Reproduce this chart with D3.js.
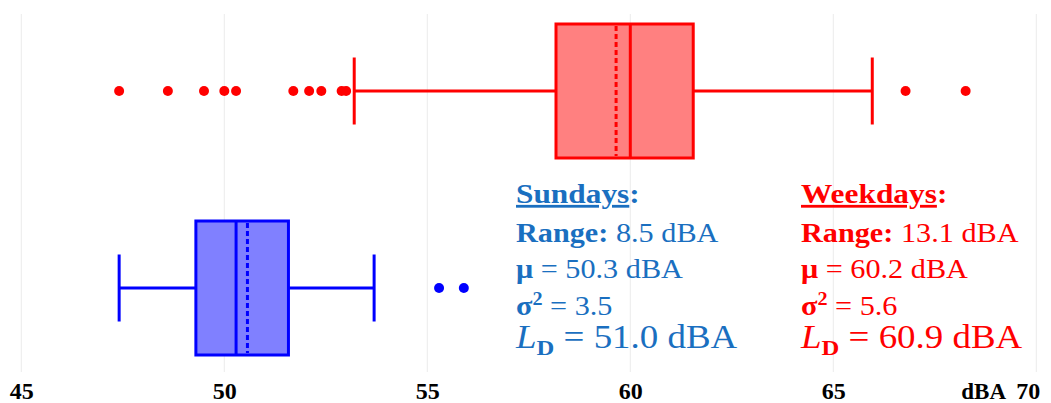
<!DOCTYPE html>
<html><head><meta charset="utf-8">
<script src="https://cdn.jsdelivr.net/npm/d3@7"></script>
<style>
body{margin:0;background:#fff;overflow:hidden}
svg text{font-family:"Liberation Serif","Times New Roman",Times,serif}
</style>
</head><body><svg id="c" width="1051" height="403"></svg>
<script>
// ---- data ----
const categories = ["Weekdays", "Sundays"];
const whiskerLow = [53.2, 47.41];
const q1 = [58.17, 49.30];
const median = [60.0, 50.29];
const mean = [59.65, 50.57];
const q3 = [61.55, 51.58];
const whiskerHigh = [65.96, 53.69];
const outliersWeekdays = [47.41, 48.61, 49.50, 50.00, 50.29, 51.70, 52.09, 52.39, 52.89, 53.00, 66.78, 68.26];
const outliersSundays = [55.29, 55.90];
const tickValues = [45, 50, 55, 60, 65, 70];
const unitLabel = "dBA";
const statsSundays = {title: "Sundays:", range: "8.5 dBA", mu: "50.3 dBA", var: "3.5", ld: "51.0 dBA"};
const statsWeekdays = {title: "Weekdays:", range: "13.1 dBA", mu: "60.2 dBA", var: "5.6", ld: "60.9 dBA"};

const strokeCol = ["#ff0000", "#0000ff"];
const fillCol = ["#ff8080", "#8080ff"];
const textCol = {Sundays: "#1a6fc0", Weekdays: "#ff0000"};

const svg = d3.select("#c");
const x = d3.scaleLinear().domain([45, 70]).range([21.3, 1036.3]);
const y = d3.scalePoint().domain(categories).range([91, 288]);
const boxH = 134, capH = 67;

// gridlines
svg.append("g").selectAll("line").data(tickValues).join("line")
  .attr("x1", d => x(d)).attr("x2", d => x(d))
  .attr("y1", 14).attr("y2", 372)
  .attr("stroke", "#ececec").attr("stroke-width", 1);

const rows = categories.map((c, i) => ({c, i, lo: whiskerLow[i], q1: q1[i], med: median[i], mean: mean[i], q3: q3[i], hi: whiskerHigh[i],
  out: i === 0 ? outliersWeekdays : outliersSundays}));

const g = svg.append("g").selectAll("g").data(rows).join("g");
g.append("line").attr("x1", d => x(d.lo)).attr("x2", d => x(d.q1))
  .attr("y1", d => y(d.c)).attr("y2", d => y(d.c))
  .attr("stroke", d => strokeCol[d.i]).attr("stroke-width", 3);
g.append("line").attr("x1", d => x(d.q3)).attr("x2", d => x(d.hi))
  .attr("y1", d => y(d.c)).attr("y2", d => y(d.c))
  .attr("stroke", d => strokeCol[d.i]).attr("stroke-width", 3);
g.selectAll(".cap").data(d => [[d, d.lo], [d, d.hi]]).join("line")
  .attr("x1", e => x(e[1])).attr("x2", e => x(e[1]))
  .attr("y1", e => y(e[0].c) - capH / 2).attr("y2", e => y(e[0].c) + capH / 2)
  .attr("stroke", e => strokeCol[e[0].i]).attr("stroke-width", 3);
g.append("rect").attr("x", d => x(d.q1)).attr("width", d => x(d.q3) - x(d.q1))
  .attr("y", d => y(d.c) - boxH / 2).attr("height", boxH)
  .attr("fill", d => fillCol[d.i]).attr("stroke", d => strokeCol[d.i]).attr("stroke-width", 3);
g.append("line").attr("x1", d => x(d.med)).attr("x2", d => x(d.med))
  .attr("y1", d => y(d.c) - boxH / 2).attr("y2", d => y(d.c) + boxH / 2)
  .attr("stroke", d => strokeCol[d.i]).attr("stroke-width", 3);
g.append("line").attr("x1", d => x(d.mean)).attr("x2", d => x(d.mean))
  .attr("y1", d => y(d.c) - boxH / 2 + 2).attr("y2", d => y(d.c) + boxH / 2 - 2)
  .attr("stroke", d => strokeCol[d.i]).attr("stroke-width", 3).attr("stroke-dasharray", "5,3");
g.selectAll("circle").data(d => d.out.map(v => [d, v])).join("circle")
  .attr("cx", e => x(e[1])).attr("cy", e => y(e[0].c)).attr("r", 5)
  .attr("fill", e => strokeCol[e[0].i]);

// axis
const axis = d3.axisBottom(x).tickValues(tickValues.slice(0, -1)).tickSize(0).tickFormat(d3.format("d"));
const ax = svg.append("g").attr("transform", "translate(0,399)").call(axis);
ax.select(".domain").remove();
ax.attr("font-family", null);
ax.selectAll("text").attr("y", 0).attr("dy", null)
  .style("font-weight", "bold").style("font-size", "24px").attr("fill", "#000");
const last = tickValues[tickValues.length - 1];
svg.append("text").attr("x", x(last) - 8).attr("y", 399).attr("text-anchor", "middle")
  .style("font-weight", "bold").style("font-size", "24px").text(d3.format("d")(last));
svg.append("text").attr("x", 1006).attr("y", 399).attr("text-anchor", "end")
  .style("font-weight", "bold").style("font-size", "23px").text(unitLabel);

// stats blocks
function block(x0, s, col) {
  const b = svg.append("g").attr("transform", `translate(${x0},0) scale(1.12,1)`).attr("fill", col);
  b.append("text").attr("x", 0).attr("y", 203).style("font-size", "28px").style("font-weight", "bold")
    .call(t => { t.append("tspan").attr("text-decoration", "underline").text(s.title.replace(":", "")); t.append("tspan").text(":"); });
  const r = b.append("text").attr("x", 0).attr("y", 242).style("font-size", "27px");
  r.append("tspan").style("font-weight", "bold").text("Range:");
  r.append("tspan").text(" " + s.range);
  const m = b.append("text").attr("x", 0).attr("y", 278).style("font-size", "27px");
  m.append("tspan").style("font-weight", "bold").text("\u03bc");
  m.append("tspan").text(" = " + s.mu);
  const v = b.append("text").attr("x", 0).attr("y", 315).style("font-size", "27px");
  v.append("tspan").style("font-weight", "bold").text("\u03c3");
  v.append("tspan").style("font-weight", "bold").style("font-size", "18px").attr("dy", -10).text("2");
  v.append("tspan").attr("dy", 10).text(" = " + s.var);
  const l = b.append("text").attr("x", 0).attr("y", 348).style("font-size", "33px");
  l.append("tspan").style("font-style", "italic").text("L");
  l.append("tspan").style("font-weight", "bold").style("font-size", "22px").attr("dy", 7).text("D");
  l.append("tspan").attr("dy", -7).text(" = " + s.ld);
}
block(516, statsSundays, textCol.Sundays);
block(801, statsWeekdays, textCol.Weekdays);
</script>
</body></html>
